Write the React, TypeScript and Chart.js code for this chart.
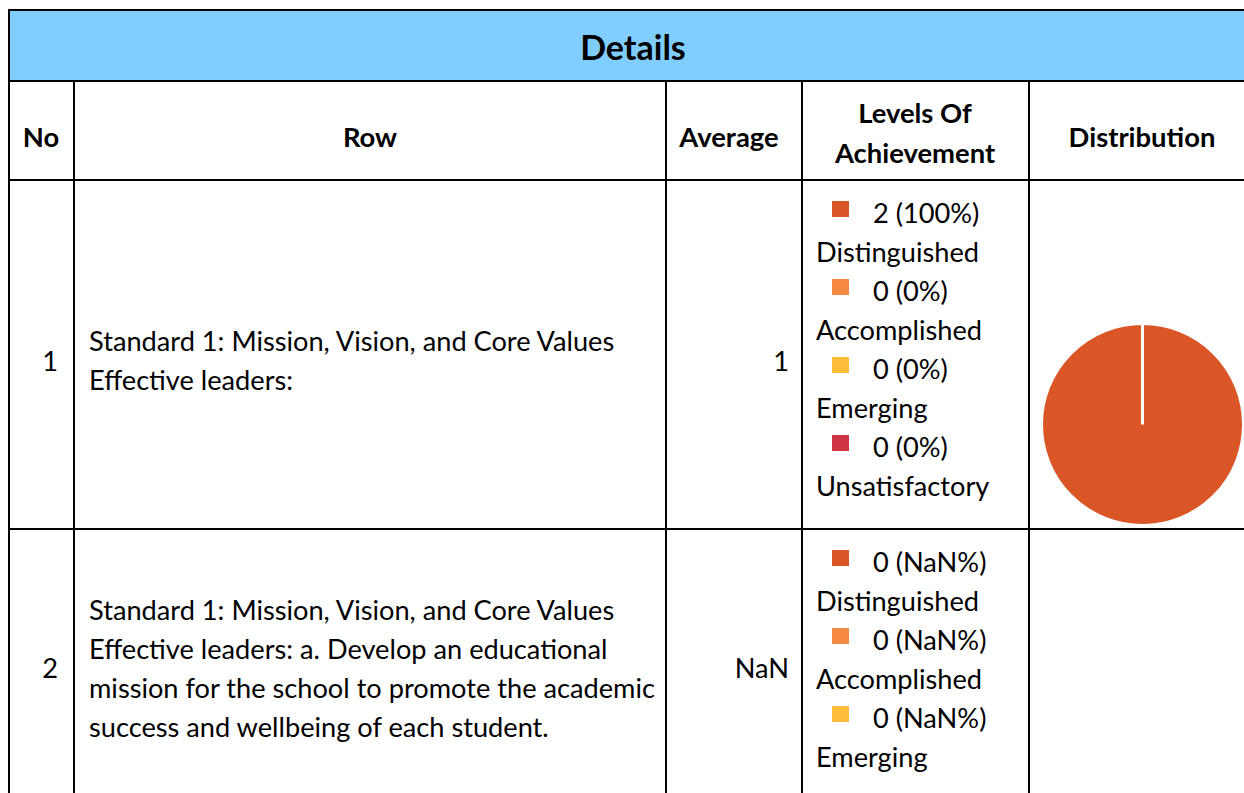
import React, { useEffect, useLayoutEffect, useRef } from "react";
import { Chart, registerables } from "chart.js";

Chart.register(...registerables);

// ---------- data ----------
const tableTitle = "Details";
const headerNo = "No";
const headerRow = "Row";
const headerAverage = "Average";
const headerLevels = ["Levels Of", "Achievement"];
const headerDistribution = "Distribution";

const levelLabels = ["Distinguished", "Accomplished", "Emerging", "Unsatisfactory"];
const levelColors = ["#DA5627", "#F78A42", "#FEBE39", "#CF3442"];

const rowNumbers = ["1", "2"];
const rowTextLines = [
  ["Standard 1: Mission, Vision, and Core Values", "Effective leaders:"],
  [
    "Standard 1: Mission, Vision, and Core Values",
    "Effective leaders: a. Develop an educational",
    "mission for the school to promote the academic",
    "success and wellbeing of each student.",
  ],
];
const rowAverages = ["1", "NaN"];
const row1Counts = [2, 0, 0, 0];
const row1Percents = ["100%", "0%", "0%", "0%"];
const row2Counts = [0, 0, 0];
const row2Percents = ["NaN%", "NaN%", "NaN%"];

// ---------- layout helpers ----------
const FONT = "Lato, 'Noto Sans', sans-serif";
const FS = 27.2;
const FSB = 27.4;
const LH = 39;
const W = 1236;

type TProps = { x: number; y: number; align: "left" | "right" | "center"; text: string; bold?: boolean; size?: number };
function T({ x, y, align, text, bold, size }: TProps) {
  const style: React.CSSProperties = {
    position: "absolute",
    top: y - LH / 2,
    height: LH,
    lineHeight: LH + "px",
    fontSize: size ?? (bold ? FSB : FS),
    fontWeight: bold ? 700 : 400,
    whiteSpace: "nowrap",
    color: "#000",
  };
  if (align === "left") style.left = x;
  else if (align === "right") style.right = W - x;
  else {
    style.left = x - 300;
    style.width = 600;
    style.textAlign = "center";
  }
  return <div style={style}>{text}</div>;
}

function HLine({ y, x1, x2 }: { y: number; x1: number; x2: number }) {
  return <div style={{ position: "absolute", left: x1, top: y, width: x2 - x1, height: 2, background: "#000" }} />;
}
function VLine({ x, y1, y2 }: { x: number; y1: number; y2: number }) {
  return <div style={{ position: "absolute", left: x, top: y1, width: 2, height: y2 - y1, background: "#000" }} />;
}

function Legend({ top, counts, percents }: { top: number; counts: number[]; percents: string[] }) {
  const items: React.ReactNode[] = [];
  counts.forEach((c, i) => {
    const yc = top + i * 2 * LH;
    items.push(
      <div key={"sq" + i} style={{ position: "absolute", left: 824, top: yc - 11, width: 17, height: 16, background: levelColors[i] }} />
    );
    items.push(<T key={"c" + i} x={865} y={yc} align="left" text={`${c} (${percents[i]})`} />);
    items.push(<T key={"l" + i} x={808} y={yc + LH} align="left" text={levelLabels[i]} />);
  });
  return <>{items}</>;
}

function Pie() {
  const ref = useRef<HTMLCanvasElement | null>(null);
  useEffect(() => {
    if (!ref.current) return;
    const chart = new Chart(ref.current, {
      type: "pie",
      data: {
        labels: levelLabels,
        datasets: [
          {
            data: row1Counts,
            backgroundColor: levelColors,
            borderColor: "#ffffff",
            borderWidth: 3,
          },
        ],
      },
      options: {
        responsive: false,
        maintainAspectRatio: false,
        animation: false,
        layout: { padding: 0 },
        plugins: { legend: { display: false }, tooltip: { enabled: false }, title: { display: false } },
      },
    });
    return () => chart.destroy();
  }, []);
  return (
    <canvas
      ref={ref}
      width={205}
      height={205}
      style={{ position: "absolute", left: 1032, top: 314, width: 205, height: 205 }}
    />
  );
}

export default function App() {
  useLayoutEffect(() => {
    document.documentElement.style.overflow = "hidden";
  }, []);
  const bottom = 800;
  return (
    <div style={{ position: "fixed", left: 0, top: 0, width: 1244, height: 793, overflow: "hidden", background: "#fff" }}>
      <div style={{ position: "absolute", left: 8, top: 8, width: W, height: 785, overflow: "hidden", fontFamily: FONT }}>
        {/* title bar */}
        <div style={{ position: "absolute", left: 2, top: 3, width: W, height: 69, background: "#80CDFF" }} />
        <T x={625} y={38} align="center" text={tableTitle} bold size={34} />

        {/* grid lines */}
        <HLine y={1} x1={0} x2={W + 20} />
        <VLine x={0} y1={1} y2={bottom} />
        <HLine y={72} x1={0} x2={W + 20} />
        <HLine y={171} x1={0} x2={W + 20} />
        <HLine y={520} x1={0} x2={W + 20} />
        <VLine x={65} y1={72} y2={bottom} />
        <VLine x={657} y1={72} y2={bottom} />
        <VLine x={793} y1={72} y2={bottom} />
        <VLine x={1020} y1={72} y2={bottom} />

        {/* header */}
        <T x={33} y={128} align="center" text={headerNo} bold />
        <T x={362} y={128} align="center" text={headerRow} bold />
        <T x={721} y={128} align="center" text={headerAverage} bold />
        <T x={907} y={104} align="center" text={headerLevels[0]} bold />
        <T x={907} y={144} align="center" text={headerLevels[1]} bold />
        <T x={1134} y={128} align="center" text={headerDistribution} bold />

        {/* row 1 */}
        <T x={50} y={352} align="right" text={rowNumbers[0]} />
        {rowTextLines[0].map((s, i) => (
          <T key={i} x={81} y={332 + i * LH} align="left" text={s} />
        ))}
        <T x={781} y={352} align="right" text={rowAverages[0]} />
        <Legend top={204} counts={row1Counts} percents={row1Percents} />
        <Pie />

        {/* row 2 */}
        <T x={50} y={659} align="right" text={rowNumbers[1]} />
        {rowTextLines[1].map((s, i) => (
          <T key={i} x={81} y={601 + i * LH} align="left" text={s} />
        ))}
        <T x={781} y={659} align="right" text={rowAverages[1]} />
        <Legend top={553} counts={row2Counts} percents={row2Percents} />
      </div>
    </div>
  );
}
